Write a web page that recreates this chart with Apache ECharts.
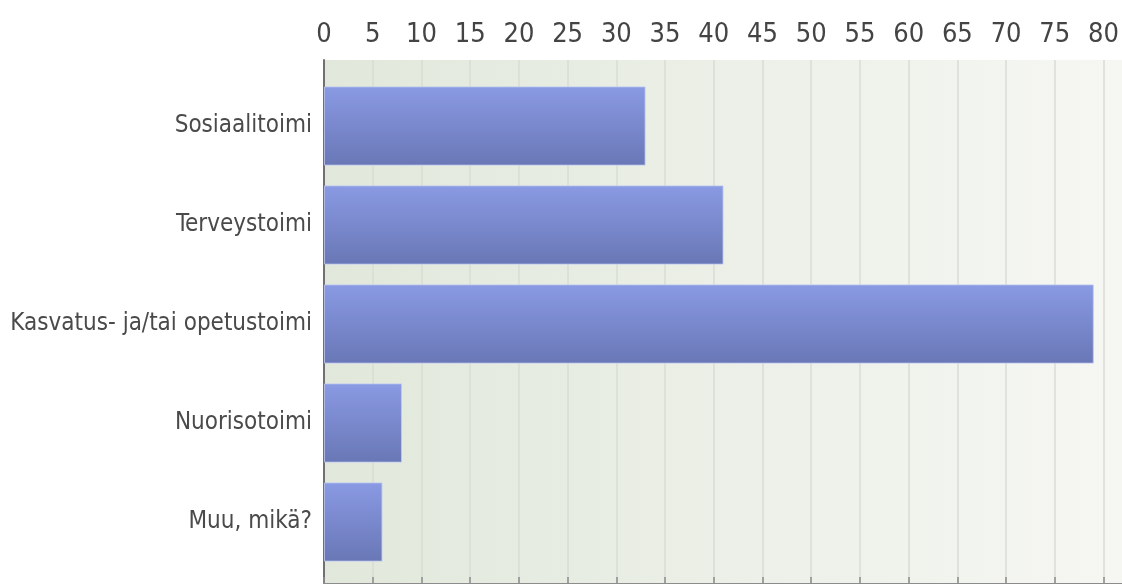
<!DOCTYPE html>
<html>
<head>
<meta charset="utf-8">
<script src="https://cdn.jsdelivr.net/npm/echarts@6/dist/echarts.min.js"></script>
<style>
html,body{margin:0;padding:0;background:#fff;}
#chart{width:1122px;height:584px;}
</style>
</head>
<body>
<div id="chart"></div>
<script>
var categories = ['Sosiaalitoimi', 'Terveystoimi', 'Kasvatus- ja/tai opetustoimi', 'Nuorisotoimi', 'Muu, mikä?'];
var values = [33, 41, 79, 8, 6];
var tickLabels = ['0','5','10','15','20','25','30','35','40','45','50','55','60','65','70','75','80'];

var FONT = '"Liberation Sans Narrow", "DejaVu Sans Condensed", "Liberation Sans", Arial, sans-serif';
var chart = echarts.init(document.getElementById('chart'));
var AXMAX = 82.1;

chart.setOption({
  animation: false,
  grid: [
    { left: 324, right: -2, top: 76.5, bottom: 12.5, containLabel: false, outerBoundsMode: 'none' },
    { left: 324, right: -2, top: 60, bottom: 0, show: true, borderWidth: 0, containLabel: false, outerBoundsMode: 'none',
      backgroundColor: { type: 'linear', x: 0, y: 0, x2: 1, y2: 0,
        colorStops: [{ offset: 0, color: '#e1e8db' }, { offset: 1, color: '#f6f7f3' }] } }
  ],
  xAxis: [
    { gridIndex: 0, type: 'value', min: 0, max: AXMAX, show: false },
    { gridIndex: 1, type: 'value', position: 'top', min: 0, max: AXMAX, interval: 5,
      axisLine: { show: true, lineStyle: { color: '#8c8c8c', width: 2 } },
      axisTick: { show: true, length: 7, lineStyle: { color: '#8c8c8c', width: 1.5 } },
      axisLabel: { show: true, margin: 12, color: '#444', fontFamily: FONT, fontSize: 27,
        formatter: function (v) { return tickLabels.indexOf(String(v)) >= 0 ? String(v) : ''; } },
      splitLine: { show: true, lineStyle: { color: '#d9ddd5', width: 1.5 } } }
  ],
  yAxis: [
    { gridIndex: 0, type: 'category', data: categories, inverse: true,
      axisLine: { show: false }, axisTick: { show: false },
      axisLabel: { margin: 12, color: '#4a4a4a', fontFamily: FONT, fontSize: 24 } },
    { gridIndex: 1, type: 'value', min: 0, max: 1,
      axisLine: { show: true, lineStyle: { color: '#707070', width: 2 } },
      axisTick: { show: false }, axisLabel: { show: false }, splitLine: { show: false } }
  ],
  series: [{
    type: 'bar', xAxisIndex: 0, yAxisIndex: 0, data: values,
    barCategoryGap: '20%',
    itemStyle: {
      color: { type: 'linear', x: 0, y: 0, x2: 0, y2: 1,
        colorStops: [{ offset: 0, color: '#8a9ae3' }, { offset: 1, color: '#6977b6' }] },
      borderColor: 'rgba(190,200,240,0.8)', borderWidth: 1
    }
  }]
});
</script>
</body>
</html>
